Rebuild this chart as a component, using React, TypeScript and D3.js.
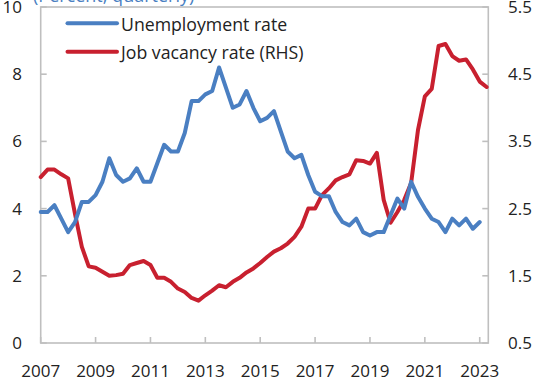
import React from "react";
import * as d3 from "d3";

const START_YEAR = 2007;
const unemployment = [
  3.9, 3.9, 4.1, 3.7, 3.3, 3.6, 4.2, 4.2,
  4.4, 4.8, 5.5, 5.0, 4.8, 4.9, 5.2, 4.8,
  4.8, 5.35, 5.9, 5.7, 5.7, 6.25, 7.2, 7.2,
  7.4, 7.5, 8.2, 7.6, 7.0, 7.1, 7.5, 7.0,
  6.6, 6.7, 6.9, 6.3, 5.7, 5.5, 5.6, 5.0,
  4.5, 4.37, 4.37, 3.9, 3.6, 3.5, 3.7, 3.3,
  3.2, 3.3, 3.3, 3.8, 4.3, 4.0, 4.8, 4.35,
  4.0, 3.7, 3.6, 3.3, 3.7, 3.5, 3.7, 3.4,
  3.6,
];
const vacancy = [
  2.97, 3.08, 3.08, 3.01, 2.95, 2.42, 1.93, 1.64,
  1.62, 1.56, 1.5, 1.51, 1.53, 1.66, 1.69, 1.72,
  1.66, 1.47, 1.47, 1.41, 1.31, 1.26, 1.17, 1.13,
  1.21, 1.28, 1.36, 1.33, 1.41, 1.47, 1.55, 1.61,
  1.69, 1.78, 1.86, 1.91, 1.98, 2.08, 2.23, 2.5,
  2.5, 2.7, 2.8, 2.92, 2.97, 3.01, 3.22, 3.21,
  3.17, 3.33, 2.63, 2.29, 2.45, 2.63, 2.88, 3.67,
  4.17, 4.28, 4.92, 4.95, 4.77, 4.7, 4.72, 4.57,
  4.39, 4.31,
];
const yearTicks = [2007, 2009, 2011, 2013, 2015, 2017, 2019, 2021, 2023];
const leftTicks = [0, 2, 4, 6, 8, 10];
const rightTicks = [0.5, 1.5, 2.5, 3.5, 4.5, 5.5];
const leftLabels = ["0", "2", "4", "6", "8", "10"];
const rightLabels = ["0.5", "1.5", "2.5", "3.5", "4.5", "5.5"];
const seriesNames = ["Unemployment rate", "Job vacancy rate (RHS)"];
const title = "(Percent, quarterly)";

const BLUE = "#4a7fc2";
const RED = "#c8202f";
const GRID = "#bfbfbf";
const FONT = "'Open Sans', sans-serif";

export default function App() {
  const W = 534, H = 382;
  const left = 40.7, right = 488.3, top = 7, bottom = 343;
  const x = d3.scaleLinear().domain([2007, 2023.3125]).range([left, right]);
  const yL = d3.scaleLinear().domain([0, 10]).range([bottom, top]);
  const yR = d3.scaleLinear().domain([0.5, 5.5]).range([bottom, top]);
  const t = (i: number) => START_YEAR + i / 4;
  const lineL = d3.line<number>().x((_, i) => x(t(i))).y((d) => yL(d));
  const lineR = d3.line<number>().x((_, i) => x(t(i))).y((d) => yR(d));

  return (
    <svg
      width={W}
      height={H}
      style={{ position: "absolute", left: 0, top: 0, background: "#fff" }}
      fontFamily={FONT}
    >
      <text x={33} y={2} fontSize={18} fill={BLUE}>{title}</text>
      {/* frame */}
      <rect x={left} y={top} width={right - left} height={bottom - top} fill="none" stroke={GRID} strokeWidth={1.6} />
      {/* x ticks */}
      {yearTicks.map((yr) => (
        <g key={yr}>
          <line x1={x(yr)} x2={x(yr)} y1={bottom} y2={bottom - 6} stroke={GRID} strokeWidth={1.6} />
          <text x={x(yr)} y={377} fontSize={17} textAnchor="middle" fill="#222">{yr}</text>
        </g>
      ))}
      {leftTicks.map((v, i) => (
        <g key={"l" + v}>
          <line x1={left} x2={left + 6} y1={yL(v)} y2={yL(v)} stroke={GRID} strokeWidth={1.6} />
          <text x={22} y={yL(v)} dy="0.35em" fontSize={17} textAnchor="end" fill="#222">{leftLabels[i]}</text>
        </g>
      ))}
      {rightTicks.map((v, i) => (
        <g key={"r" + v}>
          <line x1={right} x2={right - 6} y1={yR(v)} y2={yR(v)} stroke={GRID} strokeWidth={1.6} />
          <text x={508} y={yR(v)} dy="0.35em" fontSize={17} textAnchor="start" fill="#222">{rightLabels[i]}</text>
        </g>
      ))}
      <path d={lineR(vacancy) || ""} fill="none" stroke={RED} strokeWidth={4} strokeLinejoin="round" strokeLinecap="round" />
      <path d={lineL(unemployment) || ""} fill="none" stroke={BLUE} strokeWidth={4} strokeLinejoin="round" strokeLinecap="round" />
      {/* legend */}
      <line x1={67.5} x2={117} y1={23.3} y2={23.3} stroke={BLUE} strokeWidth={4} strokeLinecap="round" />
      <text x={121} y={30.5} fontSize={17.7} fill="#222">{seriesNames[0]}</text>
      <line x1={67.5} x2={117} y1={51.7} y2={51.7} stroke={RED} strokeWidth={4} strokeLinecap="round" />
      <text x={121} y={58.5} fontSize={17.7} fill="#222">{seriesNames[1]}</text>
    </svg>
  );
}
